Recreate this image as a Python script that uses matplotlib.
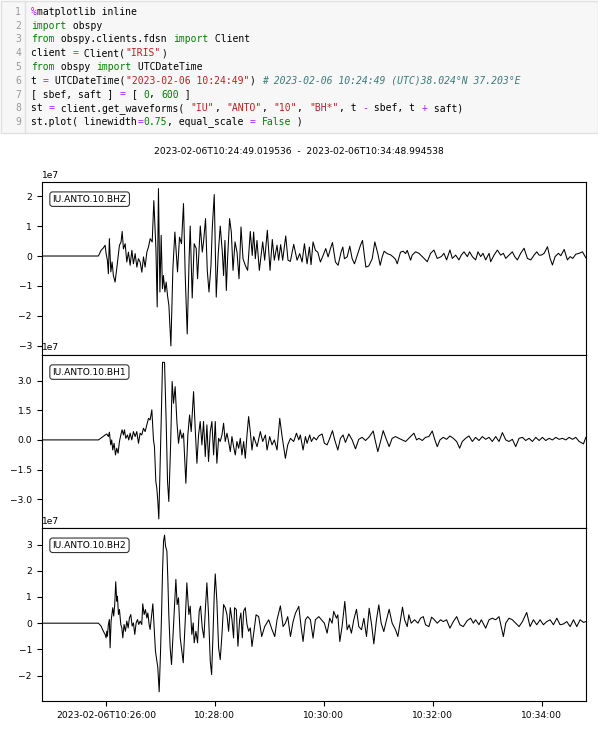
import matplotlib
matplotlib.use('Agg')
import matplotlib.pyplot as plt
import matplotlib.dates as mdates
import numpy as np
from matplotlib.patches import Rectangle
from matplotlib.ticker import MultipleLocator

START = np.datetime64('2023-02-06T10:24:49.019536')
END = np.datetime64('2023-02-06T10:34:48.994538')
TITLE = '2023-02-06T10:24:49.019536  -  2023-02-06T10:34:48.994538'

CHANNELS = ['IU.ANTO.10.BHZ', 'IU.ANTO.10.BH1', 'IU.ANTO.10.BH2']
Y_LIMITS = [(-3.29, 2.48), (-4.44, 4.31), (-2.97, 3.64)]   # units of 1e7
Y_STEPS = [1.0, 1.5, 1.0]

# (seconds after START, counts / 1e7)
bhz = [
    (0.0, 0.0), (62.5, 0.0), (65.5, 0.19), (68.0, 0.27), (69.9, 0.36), (71.0, 0.08),
    (72.4, -0.14), (73.5, -0.59), (74.6, 0.58), (76.2, -0.53), (77.6, -0.20), (79.0, -0.65),
    (80.9, -0.87), (82.8, -0.40), (85.7, 0.36), (87.5, 0.47), (88.7, 0.82), (90.1, 0.24),
    (92.0, 0.41), (93.8, -0.20), (95.6, 0.13), (97.5, -0.31), (99.4, 0.19), (101.1, -0.26),
    (103.0, 0.08), (104.9, -0.37), (106.6, -0.09), (108.5, -0.20), (110.4, -0.54), (112.2, -0.03),
    (114.0, -0.37), (115.9, 0.13), (117.7, 0.30), (119.6, 0.58), (121.8, 0.47), (123.6, 1.85),
    (125.9, 0.25), (127.3, -1.70), (128.7, 2.25), (130.3, -1.20), (131.7, 0.69), (133.1, -1.09),
    (134.2, -0.65), (135.8, -1.20), (137.2, -0.87), (138.7, -1.32), (140.2, -1.65), (142.4, -3.00),
    (144.6, -0.42), (146.8, 0.80), (148.3, 0.13), (149.7, -0.53), (151.9, 0.63), (154.1, 0.41),
    (156.3, 1.75), (158.2, -0.65), (160.4, -2.60), (162.6, 0.02), (163.7, 1.00), (165.9, -1.40),
    (168.1, 0.41), (170.3, 0.25), (171.8, -0.76), (174.8, 1.00), (177.0, 0.13), (178.4, 0.47),
    (180.6, 1.25), (182.5, -0.48), (184.4, -1.20), (186.6, -0.31), (188.0, 0.92), (190.2, 2.05),
    (192.4, -1.37), (194.6, 0.08), (196.8, 1.00), (199.1, 0.13), (200.5, -0.65), (202.0, 0.52),
    (203.5, -1.15), (204.9, -0.09), (207.1, 1.25), (209.0, 0.80), (210.9, -0.48), (213.1, 0.47),
    (215.3, 0.13), (217.5, -0.76), (219.7, 0.97), (221.9, -0.09), (224.4, -0.31), (227.0, -0.48),
    (229.9, 0.82), (232.1, 0.02), (233.6, 0.80), (235.5, -0.09), (237.3, 0.52), (239.9, -0.48),
    (243.6, 0.47), (245.8, -0.14), (248.7, 0.86), (251.7, -0.48), (254.2, 0.55), (256.4, -0.14),
    (259.4, 0.36), (261.2, -0.14), (263.4, 0.38), (265.6, -0.14), (269.0, 0.67), (271.5, -0.14),
    (274.1, -0.18), (277.8, 0.39), (281.5, -0.14), (284.4, 0.08), (287.0, -0.20), (289.6, 0.41),
    (292.5, -0.26), (295.1, 0.30), (296.9, -0.29), (299.1, 0.47), (301.7, 0.19), (304.3, 0.13),
    (307.2, -0.20), (310.2, 0.02), (313.1, 0.25), (315.7, -0.03), (318.3, 0.25), (320.5, 0.45),
    (323.8, -0.20), (326.7, -0.31), (330.0, 0.13), (331.9, 0.30), (333.7, -0.09), (336.7, -0.03),
    (339.6, 0.33), (342.2, -0.09), (344.8, -0.26), (348.4, 0.08), (351.4, 0.36), (353.6, 0.52),
    (357.3, -0.37), (360.6, -0.33), (364.3, -0.09), (367.2, 0.47), (370.5, 0.08), (373.1, -0.31),
    (375.3, -0.03), (377.5, 0.16), (380.8, 0.08), (384.5, 0.04), (387.4, -0.03), (390.0, -0.11),
    (391.9, -0.26), (395.5, 0.13), (398.5, 0.16), (401.1, 0.08), (402.9, 0.19), (406.6, -0.14),
    (408.4, 0.03), (412.1, 0.14), (415.8, 0.09), (419.5, -0.02), (425.0, -0.19), (428.7, 0.09),
    (432.3, 0.20), (436.0, -0.08), (440.4, -0.02), (443.4, 0.09), (446.3, -0.13), (450.0, 0.20),
    (452.6, -0.08), (456.3, 0.03), (459.9, -0.13), (462.5, 0.03), (465.5, 0.14), (469.1, -0.02),
    (471.7, 0.14), (474.7, -0.02), (478.3, -0.13), (480.9, 0.14), (483.9, -0.02), (486.4, 0.09),
    (489.4, -0.13), (493.1, 0.09), (494.9, -0.19), (498.6, 0.03), (502.3, 0.20), (505.9, 0.03),
    (508.9, 0.09), (511.5, -0.08), (515.1, 0.03), (518.8, 0.14), (521.4, -0.02), (524.3, -0.13),
    (528.0, 0.09), (531.7, 0.26), (535.4, -0.08), (539.1, -0.13), (542.7, 0.03), (545.7, 0.14),
    (548.3, 0.03), (550.8, 0.03), (553.8, 0.09), (557.5, 0.31), (560.4, -0.08), (563.0, -0.30),
    (565.9, -0.02), (569.6, 0.09), (572.2, 0.01), (575.9, 0.22), (579.5, -0.13), (582.5, -0.02),
    (585.4, -0.08), (588.7, 0.06), (592.4, 0.09), (596.1, 0.14), (599.8, -0.06),
]

bh1 = [
    (0.0, 0.0), (62.5, 0.0), (66.2, 0.12), (69.9, 0.25), (71.7, 0.30), (73.5, 0.17),
    (74.6, 0.39), (76.1, -0.25), (77.2, 0.0), (78.3, -0.51), (79.8, -0.17), (81.3, -0.76),
    (82.7, -0.42), (84.2, -0.67), (85.7, -0.08), (87.2, 0.25), (88.6, 0.51), (90.1, 0.25),
    (91.2, 0.51), (92.7, 0.08), (94.5, 0.25), (96.0, 0.0), (97.5, 0.34), (99.3, 0.0),
    (101.1, 0.42), (103.0, 0.17), (104.8, 0.42), (106.7, -0.17), (108.5, 0.34), (110.3, 0.25),
    (112.2, 0.59), (114.0, 0.42), (115.9, 0.76), (117.7, 1.09), (119.5, 1.01), (121.4, 1.52),
    (123.2, 0.0), (124.3, -0.34), (125.8, -2.10), (126.9, -2.44), (128.0, -3.11), (129.1, -3.99),
    (130.6, -1.26), (131.7, 0.93), (133.2, 3.92), (135.4, 3.92), (137.2, 0.93), (138.7, -2.10),
    (140.1, -3.11), (142.0, -0.42), (143.8, 2.95), (145.3, 1.85), (147.1, 2.69), (149.0, 0.93),
    (150.8, -0.17), (152.7, 0.51), (154.5, 0.08), (156.3, 0.34), (158.9, -2.19), (161.1, 0.25),
    (163.0, 1.26), (164.8, 0.42), (167.4, 2.44), (169.2, 0.59), (171.1, -1.18), (172.9, 0.25),
    (174.7, 0.93), (176.6, -0.25), (178.4, 0.93), (180.3, -0.84), (182.1, 0.76), (183.9, -1.09),
    (185.8, 0.42), (187.6, 0.93), (189.5, -0.76), (191.3, 0.93), (193.1, -1.18), (195.0, 0.08),
    (196.8, -0.08), (198.7, 0.25), (200.5, 0.84), (202.3, -0.08), (204.2, 0.34), (206.0, -0.08),
    (207.9, -0.59), (209.7, 0.17), (211.5, -0.34), (213.4, -0.76), (215.2, -0.08), (217.1, -0.42),
    (218.9, 0.08), (220.7, -0.76), (222.6, -0.08), (224.4, -0.93), (226.3, 0.25), (228.1, 1.18),
    (229.9, 0.42), (231.8, -0.51), (233.7, 0.17), (237.4, -0.34), (241.0, 0.42), (243.6, -0.08),
    (246.6, 0.25), (248.4, -0.51), (251.3, 0.17), (253.9, -0.25), (256.5, 0.0), (259.4, -0.51),
    (262.4, 1.09), (265.0, 0.17), (268.6, -0.93), (271.2, -0.25), (274.2, 0.08), (277.8, -0.08),
    (280.8, 0.34), (283.4, 0.0), (285.1, 0.25), (288.1, -0.51), (290.7, 0.17), (292.5, -0.17),
    (295.4, 0.25), (297.3, -0.08), (299.9, 0.13), (302.8, 0.0), (305.4, 0.20), (309.1, 0.30),
    (311.6, -0.17), (314.6, -0.25), (317.5, 0.08), (320.5, 0.47), (323.0, 0.0), (326.4, -0.51),
    (329.3, 0.08), (332.2, 0.25), (334.8, -0.13), (338.5, 0.30), (342.2, 0.0), (345.9, -0.45),
    (349.5, 0.03), (353.2, 0.13), (356.9, -0.03), (360.6, 0.13), (365.4, 0.45), (367.9, -0.08),
    (370.5, -0.59), (373.5, -0.08), (376.4, 0.47), (380.1, 0.0), (383.0, -0.34), (386.3, 0.08),
    (390.0, 0.17), (393.7, 0.08), (397.4, 0.0), (401.1, -0.08), (404.7, 0.08), (410.3, 0.34),
    (413.2, 0.0), (415.8, 0.08), (419.5, -0.03), (423.1, 0.13), (426.8, 0.17), (430.5, 0.45),
    (433.4, 0.0), (436.0, -0.34), (439.0, 0.0), (442.6, 0.13), (446.3, 0.03), (450.0, 0.20),
    (453.7, 0.08), (457.4, -0.08), (460.7, -0.42), (463.6, -0.08), (467.3, 0.08), (471.0, 0.20),
    (474.7, -0.08), (478.3, 0.13), (482.0, -0.03), (485.7, 0.17), (489.4, 0.03), (493.1, 0.13),
    (496.7, -0.08), (500.4, 0.17), (504.1, -0.08), (507.8, 0.37), (511.5, 0.0), (515.1, -0.08),
    (518.8, 0.03), (522.5, -0.34), (526.2, 0.08), (529.9, 0.13), (533.5, -0.03), (537.2, 0.08),
    (540.9, -0.08), (544.6, 0.13), (548.3, -0.03), (551.9, 0.13), (555.6, -0.03), (559.3, 0.08),
    (563.0, 0.0), (566.7, 0.13), (570.3, 0.03), (574.0, 0.08), (577.7, 0.0), (581.4, 0.13),
    (585.1, 0.03), (588.7, 0.13), (592.4, -0.08), (597.2, -0.20), (599.8, 0.13),
]

bh2 = [
    (0.0, 0.0), (62.5, 0.0), (65.4, -0.11), (68.0, -0.31), (69.9, -0.43), (71.0, -0.56),
    (71.7, -0.31), (72.4, -0.50), (73.5, -0.05), (74.6, 0.14), (75.4, -0.94), (76.5, 0.08),
    (77.6, 0.39), (78.3, 0.59), (79.4, 0.27), (80.5, 0.71), (81.6, 1.58), (82.7, 0.84),
    (83.5, 1.03), (84.6, 0.33), (85.7, 0.52), (87.2, -0.05), (88.3, -0.18), (89.4, -0.56),
    (90.8, -0.05), (92.3, -0.31), (93.8, 0.08), (95.3, -0.18), (96.7, 0.20), (98.2, 0.33),
    (99.7, -0.11), (101.1, 0.01), (102.6, -0.43), (104.1, 0.01), (105.6, 0.14), (107.0, -0.05),
    (108.5, 0.08), (110.3, -0.05), (111.4, 0.74), (112.9, 0.33), (114.4, 0.52), (115.9, 0.20),
    (117.0, 0.39), (118.4, -0.05), (119.5, -0.24), (121.4, 0.39), (122.5, 0.74), (124.0, -0.18),
    (125.4, -1.07), (126.9, -1.45), (128.0, -1.70), (129.5, -2.62), (131.0, -1.07), (132.1, 0.33),
    (133.2, 1.98), (134.3, 3.13), (135.4, 3.36), (136.5, 2.94), (138.0, 2.75), (139.0, 1.73),
    (140.1, 0.33), (141.6, -0.94), (143.1, -1.58), (144.6, -0.56), (146.0, 0.46), (147.9, 1.67),
    (149.3, 0.71), (150.8, 0.97), (152.7, -0.56), (154.5, -1.07), (156.0, -1.51), (158.2, 0.08),
    (160.0, 1.54), (162.2, 0.33), (163.7, 0.65), (165.5, -0.43), (167.0, 0.01), (168.1, -0.75),
    (170.0, -0.31), (171.8, -0.75), (173.6, 0.46), (175.1, 0.65), (177.0, -0.18), (178.8, -0.56),
    (180.6, 0.65), (182.1, 1.54), (183.9, 0.33), (185.8, -1.45), (187.3, -1.96), (188.7, -0.56),
    (190.2, 1.09), (191.3, 1.88), (193.1, 0.84), (195.0, -0.94), (196.8, -1.39), (198.7, -0.43),
    (200.5, 0.71), (202.3, 0.59), (204.2, 0.33), (206.0, -0.31), (207.9, 0.59), (209.7, 0.14),
    (211.5, -0.56), (212.6, 0.59), (214.5, 0.52), (216.3, -0.88), (218.2, 0.14), (219.6, 0.39),
    (221.1, -0.56), (222.6, 0.46), (224.4, 0.59), (226.3, -0.05), (228.1, -0.31), (229.9, -0.18),
    (231.8, -0.89), (236.3, 0.32), (239.2, 0.25), (242.5, -0.51), (245.8, -0.13), (250.2, 0.13),
    (253.9, -0.25), (256.9, -0.51), (259.4, 0.13), (263.1, 0.66), (266.1, -0.13), (268.6, 0.0),
    (271.2, 0.25), (274.2, -0.51), (277.1, 0.06), (279.7, 0.38), (283.4, 0.64), (285.9, -0.13),
    (288.1, -0.70), (290.7, 0.13), (293.2, 0.25), (296.2, 0.13), (299.1, -0.57), (301.7, 0.13),
    (305.4, 0.25), (308.3, 0.13), (311.6, 0.0), (314.6, -0.38), (317.5, 0.19), (320.1, 0.0),
    (321.9, 0.45), (324.9, 0.19), (326.4, 0.32), (328.6, -0.70), (331.1, -0.13), (334.1, 0.83),
    (336.7, -0.25), (338.9, -0.06), (341.4, -0.38), (344.0, 0.13), (347.0, 0.53), (349.5, -0.13),
    (352.5, -0.25), (355.1, 0.19), (358.0, -0.51), (361.0, 0.57), (363.9, -0.13), (366.1, -0.79),
    (369.0, 0.13), (371.6, 0.70), (374.2, 0.0), (377.1, -0.32), (380.1, 0.13), (383.0, 0.53),
    (386.3, 0.0), (390.0, -0.25), (392.6, -0.51), (395.5, 0.13), (397.7, 0.61), (400.0, 0.13),
    (402.9, -0.13), (404.7, 0.32), (407.3, 0.0), (411.0, 0.13), (414.7, 0.0), (417.6, 0.19),
    (420.6, 0.25), (423.1, -0.06), (426.8, -0.13), (429.8, 0.23), (432.3, 0.15), (436.0, 0.0),
    (439.7, 0.13), (442.6, 0.06), (446.3, 0.13), (450.0, -0.19), (453.7, 0.06), (457.4, 0.25),
    (461.0, -0.06), (464.7, -0.13), (469.1, 0.10), (472.8, 0.19), (475.8, 0.0), (478.3, 0.13),
    (482.0, -0.06), (484.6, 0.13), (489.4, -0.19), (493.1, 0.13), (496.7, 0.19), (500.4, 0.13),
    (504.1, 0.25), (508.9, -0.51), (511.5, 0.0), (515.1, 0.19), (518.8, 0.13), (522.5, 0.0),
    (526.2, -0.13), (529.9, 0.06), (534.6, 0.41), (538.3, -0.13), (542.0, 0.13), (545.7, -0.06),
    (549.4, 0.13), (553.0, -0.06), (556.7, 0.06), (560.4, 0.13), (564.1, -0.06), (567.8, 0.19),
    (571.4, -0.06), (575.1, -0.03), (578.8, 0.06), (582.5, -0.13), (586.2, 0.13), (589.8, -0.13),
    (593.5, 0.13), (597.2, 0.03), (599.8, 0.06),
]

# notebook input cell, one list of (text, kind) per line
CODE = [
    [('%', 'op'), ('matplotlib inline', 'txt')],
    [('import', 'kw'), (' obspy', 'txt')],
    [('from', 'kw'), (' obspy.clients.fdsn ', 'txt'), ('import', 'kw'), (' Client', 'txt')],
    [('client ', 'txt'), ('=', 'op'), (' Client(', 'txt'), ('"IRIS"', 'str'), (')', 'txt')],
    [('from', 'kw'), (' obspy ', 'txt'), ('import', 'kw'), (' UTCDateTime', 'txt')],
    [('t ', 'txt'), ('=', 'op'), (' UTCDateTime(', 'txt'), ('"2023-02-06 10:24:49"', 'str'), (') ', 'txt'),
     ('# 2023-02-06 10:24:49 (UTC)38.024°N 37.203°E', 'com')],
    [('[ sbef, saft ] ', 'txt'), ('=', 'op'), (' [ ', 'txt'), ('0', 'num'), (', ', 'txt'), ('600', 'num'),
     (' ]', 'txt')],
    [('st ', 'txt'), ('=', 'op'), (' client.get_waveforms( ', 'txt'), ('"IU"', 'str'), (', ', 'txt'),
     ('"ANTO"', 'str'), (', ', 'txt'), ('"10"', 'str'), (', ', 'txt'), ('"BH*"', 'str'), (', t ', 'txt'),
     ('-', 'op'), (' sbef, t ', 'txt'), ('+', 'op'), (' saft)', 'txt')],
    [('st.plot( linewidth', 'txt'), ('=', 'op'), ('0.75', 'num'), (', equal_scale ', 'txt'), ('=', 'op'),
     (' ', 'txt'), ('False', 'kw'), (' )', 'txt')],
]

STYLE = {
    'txt': dict(color='#000000'),
    'kw': dict(color='#008000'),
    'op': dict(color='#aa22ff'),
    'str': dict(color='#ba2121'),
    'num': dict(color='#008000'),
    'com': dict(color='#3d7b7b', style='italic'),
}

W, H = 598, 730
fig = plt.figure(figsize=(W / 100, H / 100), dpi=100)

# code cell, drawn in pixel coordinates
cell = fig.add_axes([0, 0, 1, 1])
cell.set_xlim(0, W)
cell.set_ylim(H, 0)
cell.axis('off')
cell.add_patch(Rectangle((0.5, 0.5), W - 1, 132, fc='#f7f7f7', ec='#e0e0e0', lw=1))
cell.plot([25, 25], [1, 132], color='#e0e0e0', lw=1)
char_w = 5.92
for i, line in enumerate(CODE):
    y = 12 + i * 13.75
    cell.text(21, y, str(i + 1), ha='right', va='center', family='DejaVu Sans Mono',
              fontsize=7.0, color='#999999')
    col = 0
    for txt, kind in line:
        cell.text(31 + col * char_w, y, txt, ha='left', va='center', family='DejaVu Sans Mono',
                  fontsize=7.0, **STYLE[kind])
        col += len(txt)

fig.text(0.5, 1 - 151 / H, TITLE, ha='center', va='center', fontsize=6.6)

left = 41.7 / W
width = (586 - 41.7) / W
tops = [181.7, 354.6, 527.8, 701.0]
axes = []
for k, trace in enumerate([bhz, bh1, bh2]):
    bottom = 1 - tops[k + 1] / H
    height = (tops[k + 1] - tops[k]) / H
    ax = fig.add_axes([left, bottom, width, height], sharex=axes[0] if axes else None)
    t, v = np.array(trace).T
    times = START + (t * 1e6).astype(np.int64).astype('timedelta64[us]')
    ax.plot(times, v * 1e7, color='k', lw=0.75)
    lo, hi = Y_LIMITS[k]
    ax.set_ylim(lo * 1e7, hi * 1e7)
    ax.yaxis.set_major_locator(MultipleLocator(Y_STEPS[k] * 1e7))
    ax.tick_params(labelsize=6.6)
    ax.yaxis.get_offset_text().set_fontsize(6.6)
    ax.text(0.02, 0.925, CHANNELS[k], transform=ax.transAxes, ha='left', va='top', fontsize=6.6,
            bbox=dict(boxstyle='round,pad=0.3', fc='w', ec='#333333', lw=0.8))
    axes.append(ax)

axes[0].set_xlim(START, END)
axes[-1].xaxis.set_major_locator(mdates.MinuteLocator(byminute=range(0, 60, 2)))


def time_label(x, pos):
    d = mdates.num2date(x)
    if pos == 0:
        return d.strftime('%Y-%m-%dT%H:%M:%S')
    return d.strftime('%H:%M:%S')


axes[-1].xaxis.set_major_formatter(plt.FuncFormatter(time_label))
for ax in axes[:-1]:
    ax.tick_params(labelbottom=False)

fig.savefig('out.png', dpi=100)
